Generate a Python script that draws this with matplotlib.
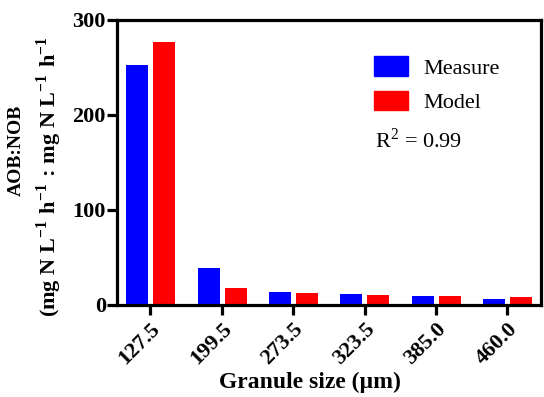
import numpy as np
import matplotlib
matplotlib.use("Agg")
import matplotlib.pyplot as plt
from matplotlib.patches import Patch
from matplotlib.transforms import ScaledTranslation

sizes = ["127.5", "199.5", "273.5", "323.5", "385.0", "460.0"]
measure = [253, 39, 14, 11, 9, 6]
model = [277, 18, 12, 10, 9, 8]

plt.rcParams["font.family"] = ["Liberation Serif", "DejaVu Serif"]
plt.rcParams["mathtext.fontset"] = "custom"
plt.rcParams["mathtext.rm"] = "Liberation Serif"
plt.rcParams["mathtext.bf"] = "Liberation Serif:bold"

fig = plt.figure(figsize=(5.44, 3.97), dpi=100)
ax = fig.add_axes([0.215, 0.232, 0.779, 0.718])

x = np.arange(len(sizes))
w = 0.31
ax.bar(x - 0.185, measure, w, color="#0000ff")
ax.bar(x + 0.195, model, w, color="#ff0000")

ax.set_xlim(-0.47, 5.47)
ax.set_ylim(0, 300)
ax.set_yticks([0, 100, 200, 300])
ax.set_xticks(x)
ax.set_xticklabels(sizes, rotation=45, ha="right", rotation_mode="anchor",
                   fontsize=16, fontweight="bold")
shift = ScaledTranslation(-4 / 100, 0, fig.dpi_scale_trans)
for lab in ax.get_xticklabels():
    lab.set_transform(lab.get_transform() + shift)
for lab in ax.get_yticklabels():
    lab.set_fontsize(16)
    lab.set_fontweight("bold")

for s in ax.spines.values():
    s.set_linewidth(2.3)
ax.tick_params(width=2.3, length=7, direction="out", pad=1)
ax.tick_params(axis="x", pad=3)

ax.set_xlabel("Granule size (\u00b5m)", fontsize=17, fontweight="bold", va="top")
ax.xaxis.set_label_coords(0.455, -0.235)

fig.text(0.03, 0.622, "AOB:NOB", rotation=90, ha="center", va="center",
         fontsize=14, fontweight="bold")
fig.text(0.09, 0.555,
         "(mg N L$^{\\mathbf{-1}}\\ $h$^{\\mathbf{-1}}\\ $: mg N L$^{\\mathbf{-1}}\\ $h$^{\\mathbf{-1}}$",
         rotation=90, ha="center", va="center", fontsize=16, fontweight="bold")

handles = [Patch(color="#0000ff", label="Measure"),
           Patch(color="#ff0000", label="Model")]
ax.legend(handles=handles, loc="upper left", bbox_to_anchor=(0.606, 0.872),
          frameon=False, fontsize=16, handlelength=1.55, handleheight=0.95,
          handletextpad=0.7, labelspacing=0.55, borderpad=0, borderaxespad=0)
ax.text(0.609, 0.551, "R$^2$ = 0.99", transform=ax.transAxes, fontsize=16,
        va="baseline")

fig.savefig("out.png", dpi=100)
